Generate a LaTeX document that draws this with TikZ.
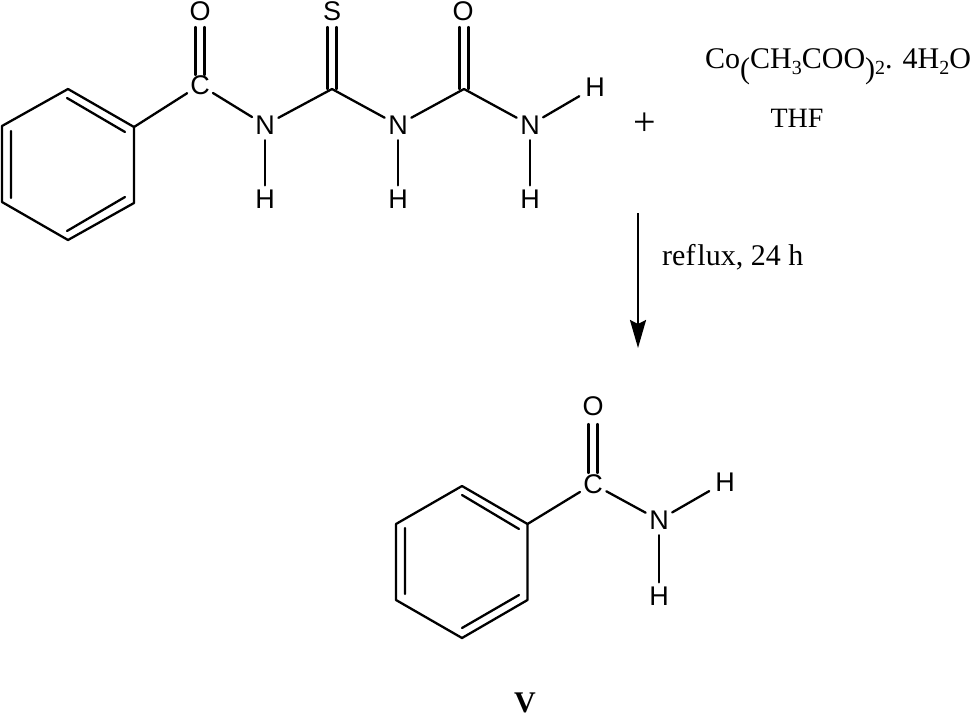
\documentclass[tikz,border=0pt]{standalone}
\usepackage{fontspec}
\setmainfont{Liberation Serif}
\newfontfamily\atomfont{Liberation Sans}
\usetikzlibrary{arrows.meta}
\newcommand{\sbs}[1]{\raisebox{-6pt}{\fontsize{20}{20}\selectfont #1}}
\newcommand{\lowp}[1]{\raisebox{-10pt}{#1}}
\tikzset{
  x=1pt,y=-1pt,
  bond/.style={line width=2.3pt,line cap=round,black},
  atom/.style={circle,inner sep=0pt,minimum size=30pt,font=\atomfont\fontsize{27}{27}\selectfont,text=black},
  hatom/.style={atom,minimum size=22pt},
  hfar/.style={atom,minimum size=36pt},
  label/.style={inner sep=0pt,font=\fontsize{30}{32}\selectfont,text=black},
  rxn/.style={line width=2.3pt,black,-{Stealth[length=28pt,width=16pt,inset=4pt]}}
}
\begin{document}
\begin{tikzpicture}
\useasboundingbox (0,0) rectangle (974,717);
% ---------- reactant ----------
\coordinate (a1) at (68,89);
\coordinate (a2) at (134,127);
\coordinate (a3) at (134,203);
\coordinate (a4) at (68,240);
\coordinate (a5) at (2,202);
\coordinate (a6) at (2,126);
\coordinate (a1i) at (67,98);
\coordinate (a2i) at (125,132);
\coordinate (a3i) at (125,197);
\coordinate (a4i) at (67,231);
\coordinate (a5i) at (11,198);
\coordinate (a6i) at (11,131);
\draw[bond,line join=round] (a1)--(a2)--(a3)--(a4)--(a5)--(a6)--cycle;
\draw[bond] (a1i)--(a2i) (a3i)--(a4i) (a5i)--(a6i);
\node[atom] (c1) at (200,85) {C};
\node[atom] (o1) at (200,11) {O};
\node[atom] (n1) at (265,125) {N};
\node[hatom] (h1) at (265,199) {H};
\coordinate (c2) at (332,89);
\node[atom] (s1) at (332,11) {S};
\node[atom] (n2) at (398,125) {N};
\node[hatom] (h2) at (398,199) {H};
\coordinate (c3) at (464,89);
\node[atom] (o2) at (463,11) {O};
\node[atom] (n3) at (530,125) {N};
\node[hatom] (h3) at (530,199) {H};
\node[hfar] (h4) at (595,87) {H};
\draw[bond] (a2)--(c1);
\draw[bond] (c1)--(n1);
\draw[bond] (n1)--(h1);
\draw[bond] (n1)--(c2);
\draw[bond] (c2)--(n2);
\draw[bond] (n2)--(h2);
\draw[bond] (n2)--(c3);
\draw[bond] (c3)--(n3);
\draw[bond] (n3)--(h3);
\draw[bond] (n3)--(h4);
\draw[bond] ([shift={(-4.5pt,10pt)}]c1.center)--([shift={(-4.5pt,-16pt)}]o1.center);
\draw[bond] ([shift={(4.5pt,10pt)}]c1.center)--([shift={(4.5pt,-16pt)}]o1.center);
\draw[bond] ([xshift=-4.5pt]c2)--([shift={(-4.5pt,-16pt)}]s1.center);
\draw[bond] ([xshift=4.5pt]c2)--([shift={(4.5pt,-16pt)}]s1.center);
\draw[bond] ([xshift=-4.5pt]c3)--([shift={(-3.5pt,-16pt)}]o2.center);
\draw[bond] ([xshift=4.5pt]c3)--([shift={(5.5pt,-16pt)}]o2.center);
% ---------- reagents ----------
\node[inner sep=0pt,font=\fontsize{40}{40}\selectfont] (plus) at (645,124) {+};
\node[label,anchor=base west] (reagent) at (705,68) {Co\lowp{(}CH\sbs{3}COO\lowp{)}\sbs{2}. 4H\sbs{2}O};
\node[label,font=\fontsize{28}{30}\selectfont,anchor=base] (thf) at (797,127) {THF};
\node[label,anchor=base west] (cond) at (662,265) {ref\kern2pt lux, 24 h};
\coordinate (arrowtop) at (638,213);
\coordinate (arrowtip) at (638,348);
\draw[rxn] (arrowtop)--(arrowtip);
% ---------- product ----------
\coordinate (b1) at (462,486);
\coordinate (b2) at (527.5,524);
\coordinate (b3) at (527.5,600);
\coordinate (b4) at (462,638);
\coordinate (b5) at (396,600);
\coordinate (b6) at (396,524);
\coordinate (b1i) at (462,495);
\coordinate (b2i) at (519,529);
\coordinate (b3i) at (519,595);
\coordinate (b4i) at (462,628);
\coordinate (b5i) at (405,594);
\coordinate (b6i) at (405,528);
\draw[bond,line join=round] (b1)--(b2)--(b3)--(b4)--(b5)--(b6)--cycle;
\draw[bond] (b1i)--(b2i) (b3i)--(b4i) (b5i)--(b6i);
\node[atom] (c4) at (593,484) {C};
\node[atom] (o3) at (593,406) {O};
\node[atom] (n4) at (659,520) {N};
\node[hfar] (h5) at (725,482) {H};
\node[hatom] (h6) at (659,596) {H};
\draw[bond] (b2)--(c4);
\draw[bond] (c4)--(n4);
\draw[bond] (n4)--(h5);
\draw[bond] (n4)--(h6);
\draw[bond] ([shift={(-4.5pt,11pt)}]c4.center)--([shift={(-4.5pt,-18pt)}]o3.center);
\draw[bond] ([shift={(4.5pt,11pt)}]c4.center)--([shift={(4.5pt,-18pt)}]o3.center);
\node[label,font=\fontsize{30}{32}\selectfont\bfseries,anchor=base] (v) at (525,712) {V};
\end{tikzpicture}
\end{document}
